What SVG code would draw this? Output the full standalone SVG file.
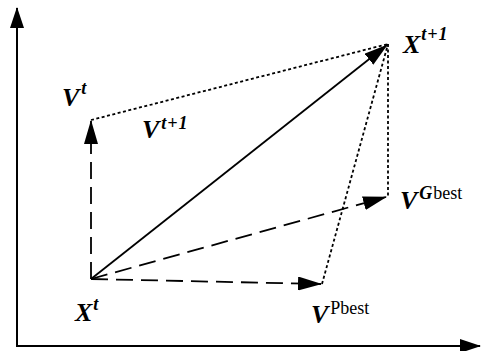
<svg xmlns="http://www.w3.org/2000/svg" width="481" height="351" viewBox="0 0 481 351">
<style>
.ax{stroke:#000;stroke-width:2;fill:none}
.solid{stroke:#000;stroke-width:1.8;fill:none}
.dash{stroke:#000;stroke-width:1.8;fill:none;stroke-dasharray:17,8}
.dot{stroke:#000;stroke-width:1.8;fill:none;stroke-dasharray:3,2.5}
.lab{font-family:"Liberation Serif","DejaVu Serif",serif;font-weight:bold;font-style:italic;font-size:26px;fill:#000}
.sup{font-size:18px;letter-spacing:1px}
.rm{font-style:normal;font-weight:normal;letter-spacing:0}
</style>
<defs>
<marker id="ah" markerUnits="userSpaceOnUse" markerWidth="24" markerHeight="14" refX="23" refY="7" orient="auto">
<path d="M0,0 L24,7 L0,14 z" fill="#000"/>
</marker>
<marker id="axh" markerUnits="userSpaceOnUse" markerWidth="21" markerHeight="14" refX="20" refY="7" orient="auto">
<path d="M0,0 L21,7 L0,14 z" fill="#000"/>
</marker>
</defs>
<g id="connectors">
<line class="ax" x1="17" y1="346" x2="17" y2="8" marker-end="url(#axh)"/>
<line class="ax" x1="16" y1="346" x2="480" y2="346" marker-end="url(#axh)"/>
<line class="dash" x1="91" y1="279" x2="91" y2="121" marker-end="url(#ah)"/>
<line class="solid" x1="91" y1="279" x2="387" y2="45" marker-end="url(#ah)"/>
<line class="dash" x1="91" y1="279" x2="386" y2="197" marker-end="url(#ah)"/>
<line class="dash" x1="91" y1="279" x2="321" y2="284" marker-end="url(#ah)"/>
<line class="dot" x1="91" y1="120" x2="388" y2="44"/>
<line class="dot" x1="388" y1="44" x2="388" y2="197"/>
<line class="dot" x1="322" y1="284" x2="388" y2="44"/>
</g>
<g id="Vt"><text class="lab" x="62" y="106">V<tspan class="sup" dx="2" dy="-12">t</tspan></text></g>
<g id="Vt1"><text class="lab" x="142" y="138">V<tspan class="sup" dx="2" dy="-9">t+1</tspan></text></g>
<g id="Xt1"><text class="lab" x="403" y="53">X<tspan class="sup" dx="1" dy="-13">t+1</tspan></text></g>
<g id="Xt"><text class="lab" x="75" y="321">X<tspan class="sup" dx="1" dy="-11">t</tspan></text></g>
<g id="VG"><text class="lab" x="400" y="209">V<tspan class="sup" dx="2" dy="-10">G</tspan><tspan class="sup rm">best</tspan></text></g>
<g id="VP"><text class="lab" x="311" y="323">V<tspan class="sup rm" dx="2" dy="-9">Pbest</tspan></text></g>
</svg>
